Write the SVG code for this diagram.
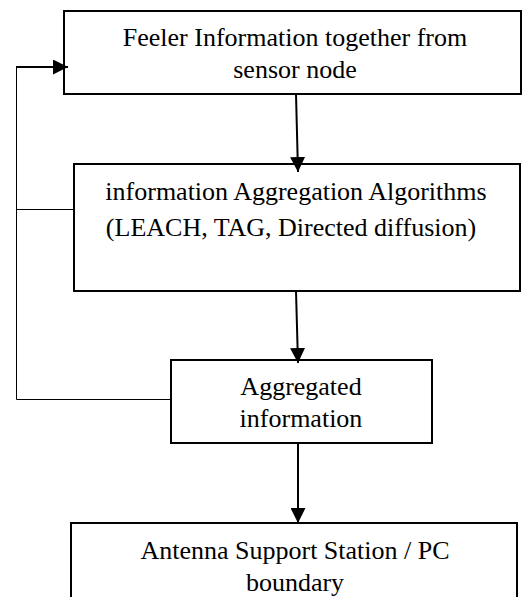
<svg xmlns="http://www.w3.org/2000/svg" width="524" height="597" viewBox="0 0 524 597">
<style>
.box{fill:#fff;stroke:#000;stroke-width:2}
.t{font-family:"Liberation Serif","Times New Roman",serif;font-size:26px;fill:#000;text-anchor:middle}
.c{stroke:#000;stroke-width:2;fill:none}
.f{stroke:#000;stroke-width:1;fill:none}
</style>
<defs>
<marker id="ah" markerWidth="15" markerHeight="15" viewBox="0 0 15 15" refX="15" refY="7.5" orient="auto" markerUnits="userSpaceOnUse">
<path d="M0,0 L15,7.5 L0,15 Z" fill="#000"/>
</marker>
</defs>
<g id="n1">
<rect class="box" x="64" y="11" width="457" height="83"/>
<text class="t" x="295" y="46">Feeler Information together from</text>
<text class="t" x="295" y="78">sensor node</text>
</g>
<g id="n2">
<rect class="box" x="74" y="164" width="446" height="127"/>
<text class="t" x="296" y="200">information Aggregation Algorithms</text>
<text class="t" x="291" y="236">(LEACH, TAG, Directed diffusion)</text>
</g>
<g id="n3">
<rect class="box" x="171" y="360" width="261" height="83"/>
<text class="t" x="301" y="395">Aggregated</text>
<text class="t" x="301" y="427">information</text>
</g>
<g id="n4">
<rect class="box" x="71" y="523" width="446" height="90"/>
<text class="t" x="295" y="559">Antenna Support Station / PC</text>
<text class="t" x="295" y="591">boundary</text>
</g>
<g id="connectors">
<line class="c" x1="296" y1="94" x2="298" y2="172" marker-end="url(#ah)"/>
<line class="c" x1="296" y1="291" x2="298" y2="363" marker-end="url(#ah)"/>
<line class="c" x1="298" y1="444" x2="298" y2="523" marker-end="url(#ah)"/>
<polyline class="f" points="171,399.5 16.5,399.5 16.5,67"/>
<line class="f" x1="16.5" y1="209.5" x2="74" y2="209.5"/>
<line class="c" x1="16" y1="67" x2="68" y2="67" marker-end="url(#ah)"/>
</g>
</svg>
